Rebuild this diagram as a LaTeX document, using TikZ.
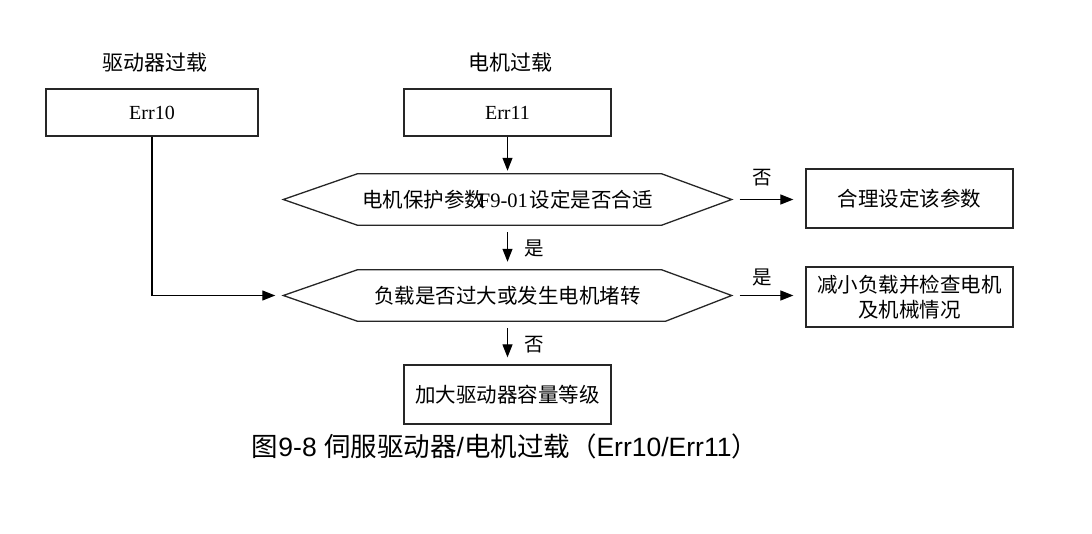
\documentclass[tikz,border=0pt]{standalone}
\usepackage{fontspec}
\setmainfont{Liberation Serif}
\newfontfamily\cjk{Noto Sans CJK SC}
\newfontfamily\arial{Liberation Sans}
\usetikzlibrary{arrows.meta,calc}
\tikzset{
  boxnode/.style={draw=black!85, line width=1.3pt, inner sep=0pt, align=center,
    font=\cjk\fontsize{20.5}{25}\selectfont},
  hexnode/.style={inner sep=0pt, minimum width=448pt, minimum height=51pt,
    font=\cjk\fontsize{20.5}{25}\selectfont},
  hexline/.style={draw=black!85, line width=1.3pt, line join=miter},
  titlenode/.style={font=\cjk\fontsize{21}{25}\selectfont},
  lbl/.style={font=\cjk\fontsize{19.5}{23}\selectfont},
  errfont/.style={font=\fontsize{20}{24}\selectfont},
  arr/.style={-{Triangle[length=13pt,width=10pt]}, line width=1.2pt}
}
\begin{document}
\begin{tikzpicture}[x=1pt,y=-1pt]
\useasboundingbox (0,0) rectangle (1092,534);

% titles
\node[titlenode] (t1) at (155,63) {驱动器过载};
\node[titlenode] (t2) at (510,63) {电机过载};

% top boxes
\node[boxnode, minimum width=212pt, minimum height=47pt, errfont] (e10) at (152,112.5) {Err10};
\node[boxnode, minimum width=207pt, minimum height=47pt, errfont] (e11) at (507.5,112.5) {Err11};

% decisions
\node[hexnode] (h1) at (507.5,199.5) {电机保护参数\hspace{-0.3em}{\rmfamily F9-01}\hspace{0.1em}设定是否合适};
\draw[hexline] (h1.west) -- ($(h1.north west)+(74,0)$) -- ($(h1.north east)+(-70,0)$)
  -- (h1.east) -- ($(h1.south east)+(-70,0)$) -- ($(h1.south west)+(74,0)$) -- cycle;

\node[hexnode] (h2) at (507.5,295.5) {负载是否过大或发生电机堵转};
\draw[hexline] (h2.west) -- ($(h2.north west)+(74,0)$) -- ($(h2.north east)+(-70,0)$)
  -- (h2.east) -- ($(h2.south east)+(-66,0)$) -- ($(h2.south west)+(74,0)$) -- cycle;

% right boxes
\node[boxnode, minimum width=207pt, minimum height=59pt] (r1) at (909.5,198.5) {合理设定该参数};
\node[boxnode, minimum width=207pt, minimum height=60pt] (r2) at (909.5,297) {减小负载并检查电机\\及机械情况};

% bottom box
\node[boxnode, minimum width=207pt, minimum height=59pt] (r3) at (507.5,394.5) {加大驱动器容量等级};

% connectors
\draw[arr, shorten >=3pt] (e11) -- (h1);
\draw[arr, shorten <=7pt, shorten >=8pt] (h1) -- (h2);
\draw[arr, shorten <=7pt, shorten >=7pt] (h2) -- (r3);
\draw[arr, shorten <=8pt, shorten >=12pt] (h1.east) -- (h1.east -| r1.west);
\draw[arr, shorten <=8pt, shorten >=12pt] (h2.east) -- (h2.east -| r2.west);
\draw[arr, shorten >=8pt] (e10.south) |- (h2.west);

% labels
\node[lbl] (l1) at (762,178) {否};
\node[lbl] (l2) at (762,278) {是};
\node[lbl] (l3) at (534,249) {是};
\node[lbl] (l4) at (534,345) {否};

% caption
\node[font=\fontsize{26.5}{30}\selectfont] (cap) at (505,446)
  {{\cjk 图}{\arial 9-8 }{\cjk 伺服驱动器}{\arial /}{\cjk 电机过载（}{\arial Err10/Err11}{\cjk ）}};
\end{tikzpicture}
\end{document}
